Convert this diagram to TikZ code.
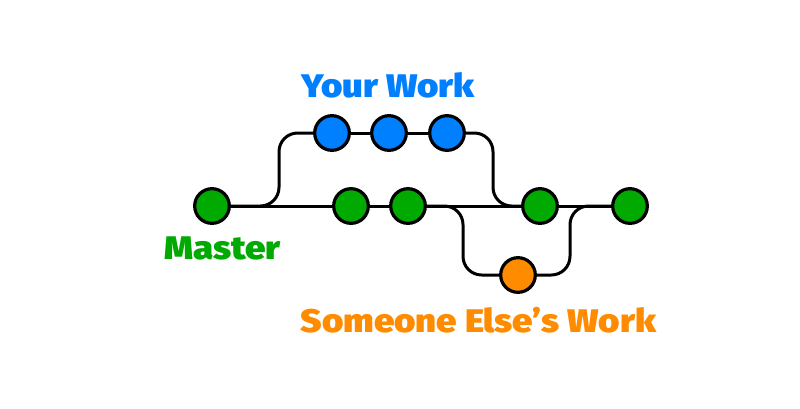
\documentclass[tikz,border=0pt]{standalone}
\usepackage{fontspec}
\setmainfont{Fira Sans}[BoldFont={Fira Sans Black}, BoldFeatures={FakeStretch=1.12}]
\usetikzlibrary{calc}
\definecolor{mastergreen}{RGB}{0,170,0}
\definecolor{yourblue}{RGB}{0,128,255}
\definecolor{elseorange}{RGB}{255,140,0}
\tikzset{
    commit/.style={circle, draw=black, line width=2.4pt, minimum size=26pt, inner sep=0pt},
    branch/.style={line width=2.25pt, rounded corners=14pt},
    label/.style={font=\bfseries\fontsize{24.5}{28}\selectfont, anchor=base},
    git settings/.style={
        x=0.75pt,
        y=-0.75pt
    }
}

\begin{document}
\begin{tikzpicture}[git settings]
    \useasboundingbox (0,0) rectangle (800,408);

    \def\main{206}   % Master line
    \def\up{133}     % Your work line
    \def\down{275}   % Someone else's line

    % Turning points of the branches
    \coordinate (forkUp) at (279,\main);
    \coordinate (turnUp) at (279,\up);
    \coordinate (mergeUp) at (493,\up);
    \coordinate (joinUp) at (493,\main);
    \coordinate (forkDown) at (463,\main);
    \coordinate (turnDown) at (463,\down);
    \coordinate (mergeDown) at (570,\down);
    \coordinate (joinDown) at (570,\main);

    % Master commits
    \node[commit, fill=mastergreen] (m1) at (212,\main) {};
    \node[commit, fill=mastergreen] (m2) at (351,\main) {};
    \node[commit, fill=mastergreen] (m3) at (408,\main) {};
    \node[commit, fill=mastergreen] (m4) at (540,\main) {};
    \node[commit, fill=mastergreen] (m5) at (630,\main) {};

    % Your work
    \node[commit, fill=yourblue] (y1) at (332,\up) {};
    \node[commit, fill=yourblue] (y2) at (389,\up) {};
    \node[commit, fill=yourblue] (y3) at (447,\up) {};

    % Someone else's work
    \node[commit, fill=elseorange] (o1) at (518,\down) {};

    % Connectors
    \draw[branch] (m1) -- (m2) -- (m3) -- (m4) -- (m5);
    \draw[branch] (m1.east) -- (forkUp) -- (turnUp) -- (y1.west);
    \draw[branch] (y1) -- (y2) -- (y3);
    \draw[branch] (y3.east) -- (mergeUp) -- (joinUp) -- (m4.west);
    \draw[branch] (m3.east) -- (forkDown) -- (turnDown) -- (o1.west);
    \draw[branch] (o1.east) -- (mergeDown) -- (joinDown) -- (m5.west);

    % Branch labels
    \node[label, text=yourblue] (yourLabel) at (388,97) {Your Work};
    \node[label, text=mastergreen] (masterLabel) at (222.5,259) {Master};
    \node[label, text=elseorange] (elseLabel) at (478.5,332) {Someone Else’s Work};

\end{tikzpicture}
\end{document}
